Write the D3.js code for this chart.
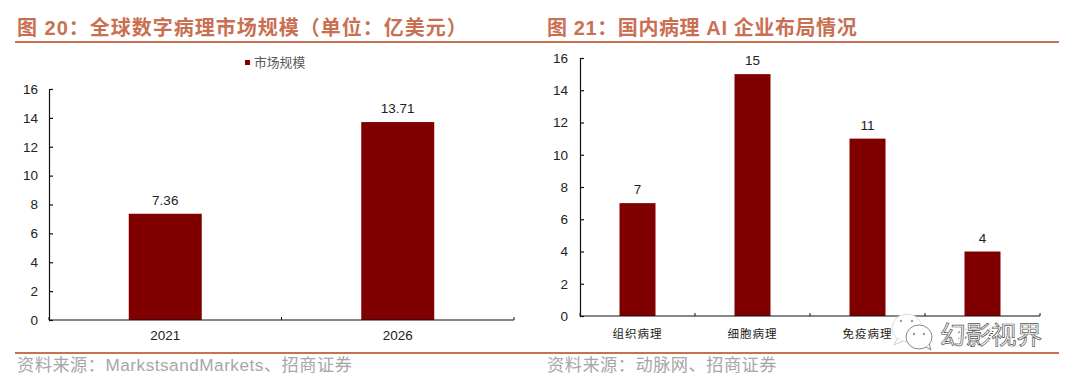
<!DOCTYPE html>
<html>
<head>
<meta charset="utf-8">
<script src="https://cdn.jsdelivr.net/npm/d3@7"></script>
<style>
  html, body { margin: 0; padding: 0; background: #fff; }
  svg { display: block; }
  text { font-family: "Liberation Sans", Arial, sans-serif; }
  .cjk { font-family: "Liberation Sans", "Noto Sans CJK SC", sans-serif; }
</style>
</head>
<body>
<svg id="chart" width="1077" height="380"></svg>
<script>
const leftCategories = ['2021', '2026'];
const leftValues = [7.36, 13.71];
const leftLabels = ['7.36', '13.71'];
const rightCategories = ['组织病理', '细胞病理', '免疫病理', '分子病理'];
const rightValues = [7, 15, 11, 4];
const yTicks = [0, 2, 4, 6, 8, 10, 12, 14, 16];

const barColor = '#800000';
const accent = '#C96F52';
const sourceColor = '#A6A6A6';

const svg = d3.select('#chart');

function barChart(opt) {
  var x = d3.scaleBand().domain(opt.categories).range([opt.x0, opt.x1]);
  var y = d3.scaleLinear().domain([0, 16]).range([opt.y0, opt.y1]);
  var g = svg.append('g');

  g.selectAll('rect.bar')
    .data(opt.values)
    .enter().append('rect')
    .attr('class', 'bar')
    .attr('x', (d, i) => x(opt.categories[i]) + (x.bandwidth() - opt.barWidth) / 2)
    .attr('y', d => y(d))
    .attr('width', opt.barWidth)
    .attr('height', d => y(0) - y(d))
    .attr('fill', barColor);

  g.selectAll('text.val')
    .data(opt.values)
    .enter().append('text')
    .attr('class', 'val')
    .attr('x', (d, i) => x(opt.categories[i]) + x.bandwidth() / 2)
    .attr('y', d => y(d) - 9)
    .attr('text-anchor', 'middle')
    .attr('font-size', 13.5)
    .attr('fill', '#222')
    .text((d, i) => opt.labels ? opt.labels[i] : d);

  // y axis
  var yAxis = g.append('g')
    .attr('transform', 'translate(' + opt.x0 + ',0)')
    .call(d3.axisLeft(y).tickValues(yTicks).tickSizeInner(-4).tickSizeOuter(0).tickPadding(opt.tickPad));
  yAxis.selectAll('text').attr('font-size', 13.5).attr('font-family', '"Liberation Sans"').attr('fill', '#222');
  yAxis.selectAll('path, line').attr('stroke', '#111').attr('stroke-width', 1.2);

  // x axis, ticks sit between the categories
  var edges = opt.categories.map(c => x(c)).concat([opt.x1]);
  var xAxis = g.append('g').attr('transform', 'translate(0,' + opt.y0 + ')');
  xAxis.append('line')
    .attr('x1', opt.x0).attr('x2', opt.x1)
    .attr('stroke', '#111').attr('stroke-width', 1.2);
  xAxis.selectAll('line.edge')
    .data(edges)
    .enter().append('line')
    .attr('class', 'edge')
    .attr('x1', d => d).attr('x2', d => d)
    .attr('y1', -3).attr('y2', 0)
    .attr('stroke', '#111').attr('stroke-width', 1);
  xAxis.selectAll('text')
    .data(opt.categories)
    .enter().append('text')
    .attr('class', 'cjk')
    .attr('x', d => x(d) + x.bandwidth() / 2)
    .attr('y', opt.labelDy)
    .attr('text-anchor', 'middle')
    .attr('font-size', opt.labelSize)
    .attr('letter-spacing', opt.labelSpacing)
    .attr('fill', '#222')
    .text(d => d);
}

function frame(x0, x1, textX, spacing, title, source) {
  svg.append('text').attr('class', 'cjk')
    .attr('x', textX).attr('y', 35)
    .attr('font-size', 20).attr('font-weight', 'bold')
    .attr('fill', accent).attr('letter-spacing', spacing)
    .text(title);
  svg.append('line').attr('x1', x0).attr('x2', x1).attr('y1', 42).attr('y2', 42)
    .attr('stroke', accent).attr('stroke-width', 2);
  svg.append('line').attr('x1', x0).attr('x2', x1).attr('y1', 353).attr('y2', 353)
    .attr('stroke', accent).attr('stroke-width', 2);
  svg.append('text').attr('class', 'cjk')
    .attr('x', textX).attr('y', 371)
    .attr('font-size', 17.2).attr('fill', sourceColor).attr('letter-spacing', 0.5)
    .text(source);
}

frame(15, 540, 17, 1, '图 20：全球数字病理市场规模（单位：亿美元）', '资料来源：MarkstsandMarkets、招商证券');
frame(537, 1059, 547, 0.6, '图 21：国内病理 AI 企业布局情况', '资料来源：动脉网、招商证券');

barChart({categories: leftCategories, values: leftValues, labels: leftLabels,
  x0: 49, x1: 514, y0: 320, y1: 89, barWidth: 73, labelDy: 20, labelSize: 13.5, labelSpacing: 0, tickPad: 11});
barChart({categories: rightCategories, values: rightValues,
  x0: 580, x1: 1040, y0: 316, y1: 58, barWidth: 36, labelDy: 22, labelSize: 11.5, labelSpacing: 1, tickPad: 12});

// legend
svg.append('rect').attr('x', 245).attr('y', 60).attr('width', 5).attr('height', 5).attr('fill', barColor);
svg.append('text').attr('class', 'cjk').attr('x', 254).attr('y', 67)
  .attr('font-size', 12.8).attr('fill', '#595959').text('市场规模');

// watermark over the last category label
var mark = svg.append('g');
mark.append('ellipse').attr('cx', 907).attr('cy', 328).attr('rx', 15).attr('ry', 14)
  .attr('fill', '#fff').attr('stroke', '#ddd');
mark.append('path').attr('d', 'M897,339 L894,345 L903,341').attr('fill', '#fff').attr('stroke', '#ccc');
mark.append('ellipse').attr('cx', 919).attr('cy', 337).attr('rx', 13).attr('ry', 12)
  .attr('fill', '#fff').attr('stroke', '#888');
mark.append('path').attr('d', 'M926,347 L931,350 L929,344').attr('fill', '#fff').attr('stroke', '#888');
[[901, 321], [912, 321], [914, 334], [924, 334]].forEach(function(p) {
  mark.append('circle').attr('cx', p[0]).attr('cy', p[1]).attr('r', 1.2).attr('fill', '#999');
});
mark.append('text').attr('class', 'cjk')
  .attr('x', 940).attr('y', 344)
  .attr('font-size', 25.5)
  .attr('fill', '#fff').attr('stroke', '#fff').attr('stroke-width', 4)
  .text('幻影视界');
mark.append('text').attr('class', 'cjk')
  .attr('x', 940).attr('y', 344)
  .attr('font-size', 25.5)
  .attr('fill', '#fff').attr('stroke', '#555').attr('stroke-width', 0.7)
  .text('幻影视界');
</script>
</body>
</html>
